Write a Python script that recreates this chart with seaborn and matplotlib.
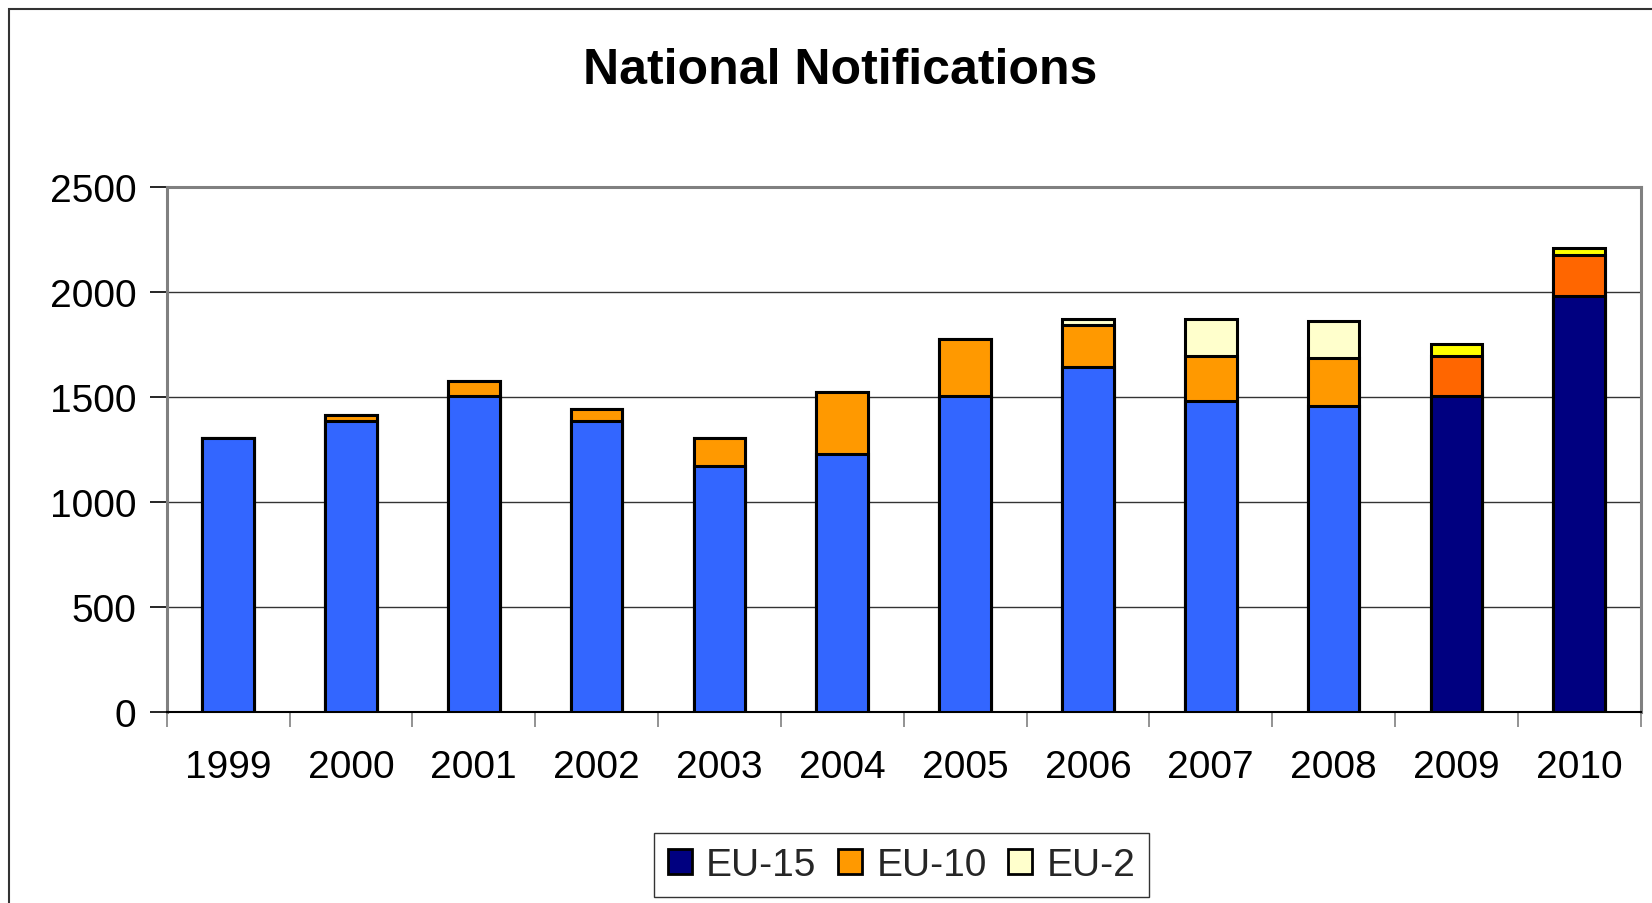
import matplotlib
matplotlib.use("Agg")
import matplotlib.pyplot as plt
import seaborn as sns
import pandas as pd
from matplotlib.patches import Patch, Rectangle

years = ["1999", "2000", "2001", "2002", "2003", "2004", "2005", "2006", "2007", "2008", "2009", "2010"]
eu15 = [1305, 1385, 1505, 1385, 1170, 1225, 1505, 1640, 1480, 1455, 1505, 1980]
eu10 = [0, 25, 67, 57, 135, 295, 270, 200, 215, 230, 190, 195]
eu2 = [0, 0, 0, 0, 0, 0, 0, 30, 175, 175, 55, 30]

series_names = ["EU-15", "EU-10", "EU-2"]
colors_old = ["#3366FF", "#FF9900", "#FFFFCC"]
colors_new = ["#000080", "#FF6600", "#FFFF00"]
new_years = ["2009", "2010"]
legend_colors = ["#000080", "#FF9900", "#FFFFCC"]

sns.set_theme(style="white")
plt.rcParams["font.family"] = ["Liberation Sans", "DejaVu Sans"]

fig = plt.figure(figsize=(16.52, 9.04), dpi=100)
ax = fig.add_axes([166.7 / 1652, 1 - 712.7 / 904, (1640.7 - 166.7) / 1652, (712.7 - 187.5) / 904])

cum1 = eu15
cum2 = [a + b for a, b in zip(eu15, eu10)]
cum3 = [a + b + c for a, b, c in zip(eu15, eu10, eu2)]
layers = [(cum3, 2), (cum2, 1), (cum1, 0)]

for values, idx in layers:
    df = pd.DataFrame({"year": years, "value": values})
    pal = {y: (colors_new[idx] if y in new_years else colors_old[idx]) for y in years}
    sns.barplot(data=df, x="year", y="value", hue="year", palette=pal, dodge=False,
                width=0.42, edgecolor="black", linewidth=2.2, saturation=1,
                legend=False, ax=ax, zorder=3)

ax.set_xlim(-0.5, len(years) - 0.5)
ax.set_ylim(0, 2500)
ax.set_yticks([0, 500, 1000, 1500, 2000, 2500])
ax.set_xlabel("")
ax.set_ylabel("")
ax.yaxis.grid(True, color="#333333", linewidth=1.0, zorder=0)
ax.set_axisbelow(True)

ax.set_xticks([i - 0.5 for i in range(len(years) + 1)], minor=True)
ax.tick_params(axis="x", which="minor", length=11, width=1.2, color="#808080", bottom=True)
ax.tick_params(axis="x", which="major", length=0, pad=27, labelsize=28, labelcolor="black")
ax.tick_params(axis="y", which="major", length=12, width=1.2, color="black", pad=10,
               labelsize=28, labelcolor="black", left=True)

for side in ["top", "right", "left"]:
    ax.spines[side].set_color("#808080")
    ax.spines[side].set_linewidth(2.2)
ax.spines["bottom"].set_color("black")
ax.spines["bottom"].set_linewidth(1.5)

fig.text(840 / 1652, 1 - 84.3 / 904, "National Notifications", ha="center", va="baseline",
         fontsize=36, fontweight="bold", color="black")

handles = [Patch(facecolor=c, edgecolor="black", linewidth=2.0) for c in legend_colors]
leg = fig.legend(handles, series_names, loc="center", bbox_to_anchor=(901.5 / 1652, 1 - 866 / 904),
                 ncol=3, fontsize=28, frameon=True, fancybox=False, shadow=False,
                 handlelength=0.62, handleheight=0.62, handletextpad=0.37,
                 columnspacing=0.55, borderpad=0.35, borderaxespad=0)
leg.get_frame().set_edgecolor("black")
leg.get_frame().set_linewidth(1.0)

fig.patches.append(Rectangle((9 / 1652, -0.1), 1.2, (1 - 10 / 904) + 0.1, transform=fig.transFigure,
                             fill=False, edgecolor="#333333", linewidth=1.5, clip_on=False))

fig.savefig("out.png", dpi=100)
